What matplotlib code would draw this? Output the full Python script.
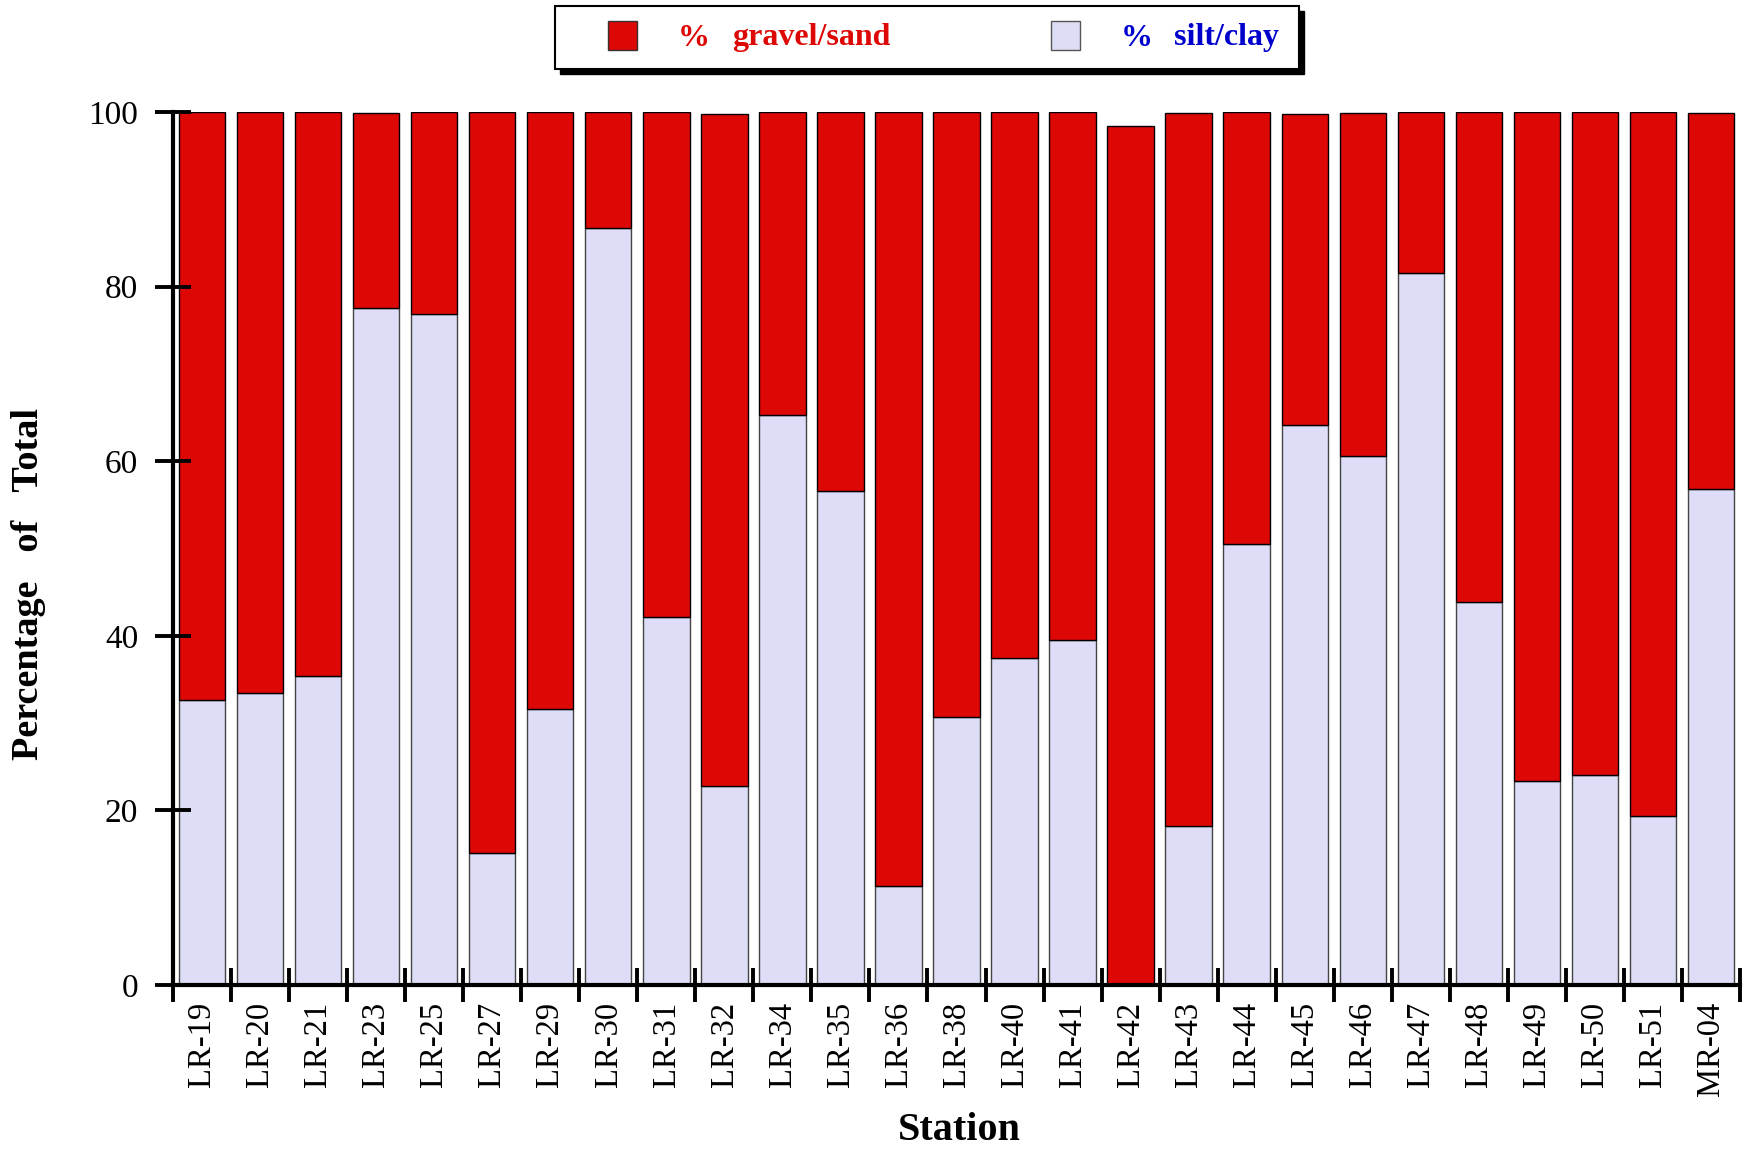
import numpy as np
import matplotlib.pyplot as plt
import matplotlib as mpl
from matplotlib.patches import Rectangle

mpl.rcParams["font.family"] = ["Liberation Serif", "DejaVu Serif"]

stations = [
    "LR-19", "LR-20", "LR-21", "LR-23", "LR-25", "LR-27", "LR-29", "LR-30",
    "LR-31", "LR-32", "LR-34", "LR-35", "LR-36", "LR-38", "LR-40", "LR-41",
    "LR-42", "LR-43", "LR-44", "LR-45", "LR-46", "LR-47", "LR-48", "LR-49",
    "LR-50", "LR-51", "MR-04",
]
silt_clay = [
    32.6, 33.4, 35.4, 77.6, 76.9, 15.1, 31.6, 86.7,
    42.1, 22.8, 65.3, 56.6, 11.3, 30.7, 37.5, 39.5,
    0.0, 18.2, 50.5, 64.2, 60.6, 81.6, 43.9, 23.4,
    24.0, 19.4, 56.8,
]
gravel_sand = [
    67.4, 66.6, 64.6, 22.3, 23.1, 84.9, 68.4, 13.3,
    57.9, 77.0, 34.7, 43.4, 88.7, 69.3, 62.5, 60.5,
    98.4, 81.7, 49.5, 35.6, 39.3, 18.4, 56.1, 76.6,
    76.0, 80.6, 43.1,
]

RED = "#DD0806"
LAV = "#DDDDF7"
BLUE = "#0000CC"

W, H = 1752, 1149
fig = plt.figure(figsize=(W / 100, H / 100), dpi=100)
ax = fig.add_axes([173 / W, 1 - 985 / H, (1740 - 173) / W, (985 - 112) / H])

x = np.arange(len(stations))
ax.bar(x, silt_clay, width=0.8, color=LAV, edgecolor="#444444", linewidth=1)
ax.bar(x, gravel_sand, width=0.8, bottom=silt_clay, color=RED,
       edgecolor="black", linewidth=1)

ax.set_xlim(-0.5, len(stations) - 0.5)
ax.set_ylim(0, 100)
for s in ["top", "right"]:
    ax.spines[s].set_visible(False)
for s in ["left", "bottom"]:
    ax.spines[s].set_linewidth(3)
ax.spines["left"].set_zorder(5)
ax.spines["bottom"].set_zorder(5)

# boundaries get ticks, centers get labels
ax.set_xticks(np.arange(-0.5, len(stations)), labels=[])
ax.set_xticks(x, labels=stations, minor=True)
ax.tick_params(axis="x", which="major", direction="inout", length=24, width=2.8)
ax.tick_params(axis="x", which="minor", length=0, pad=12, labelsize=23.5,
               labelrotation=90)
ax.set_yticks([0, 20, 40, 60, 80, 100])
ax.tick_params(axis="y", direction="inout", length=26, width=2.8, pad=12,
               labelsize=24)

fig.text(29 / W, 1 - 584 / H, "Percentage   of   Total", rotation=90,
         ha="center", va="center", fontsize=27.5, fontweight="bold")
fig.text(959 / W, 1 - 1130 / H, "Station", ha="center", va="center",
         fontsize=29, fontweight="bold")

# legend box with drop shadow
def fx(px):
    return px / W


def fy(py):
    return 1 - py / H


fig.patches.append(Rectangle((fx(560), fy(74)), fx(744), 63 / H,
                             transform=fig.transFigure, facecolor="black",
                             edgecolor="black", zorder=1))
fig.patches.append(Rectangle((fx(555), fy(69)), fx(744), 63 / H,
                             transform=fig.transFigure, facecolor="white",
                             edgecolor="black", linewidth=1.5, zorder=2))
fig.patches.append(Rectangle((fx(608), fy(50)), fx(29), 29 / H,
                             transform=fig.transFigure, facecolor=RED,
                             edgecolor="#333333", linewidth=1, zorder=3))
fig.patches.append(Rectangle((fx(1051), fy(50)), fx(29), 29 / H,
                             transform=fig.transFigure, facecolor=LAV,
                             edgecolor="#555555", linewidth=1, zorder=3))
fig.text(fx(678), fy(38), "%", color=RED, fontsize=23, fontweight="bold",
         va="center", zorder=4)
fig.text(fx(732), fy(38), "gravel/sand", color=RED, fontsize=23,
         fontweight="bold", va="center", zorder=4)
fig.text(fx(1121), fy(38), "%", color=BLUE, fontsize=23, fontweight="bold",
         va="center", zorder=4)
fig.text(fx(1174), fy(38), "silt/clay", color=BLUE, fontsize=23,
         fontweight="bold", va="center", zorder=4)

fig.savefig("out.png", dpi=100)
